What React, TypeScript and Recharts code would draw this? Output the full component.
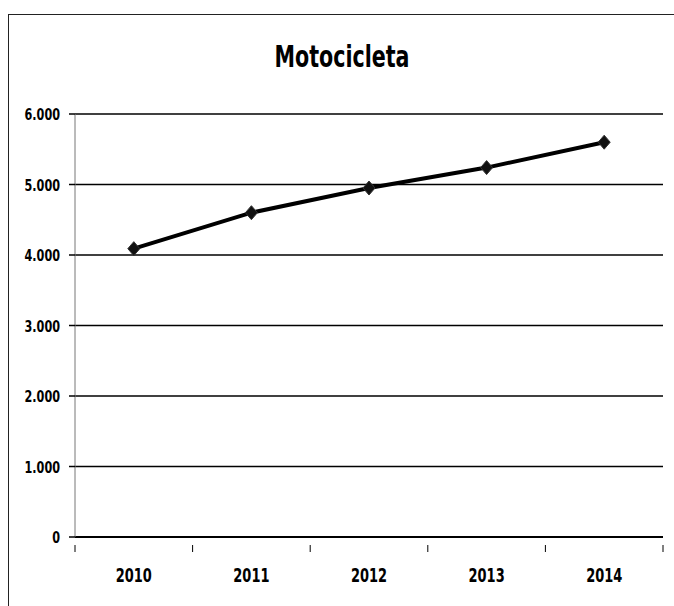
import { LineChart, Line, XAxis, YAxis, CartesianGrid } from "recharts"

const years = ["2010", "2011", "2012", "2013", "2014"]
const motos = [4090, 4600, 4950, 5240, 5600]
const yTicks = [0, 1000, 2000, 3000, 4000, 5000, 6000]

const data = years.map((year, i) => ({ year, value: motos[i] }))

const W = 674
const H = 606
const PLOT_LEFT = 75
const PLOT_RIGHT = 11
const BAND = (W - PLOT_LEFT - PLOT_RIGHT) / years.length

const font = "'DejaVu Sans Condensed', 'DejaVu Sans', sans-serif"

const fmt = (v: number) => (v === 0 ? "0" : v.toLocaleString("de-DE"))

// narrow bold text, squeezed horizontally around its anchor point
function Narrow({ x, y, size, squeeze, anchor, children }: any) {
  return (
    <text
      transform={`translate(${x},${y}) scale(${squeeze},1)`}
      textAnchor={anchor}
      fontFamily={font}
      fontStretch="condensed"
      fontWeight="bold"
      fontSize={size}
      fill="#000"
    >
      {children}
    </text>
  )
}

// category labels sit under the bands, tick marks between them
function YearTick(props: any) {
  const { x, y, payload, index } = props
  const left = x - BAND / 2
  return (
    <g>
      <line x1={left} y1={y} x2={left} y2={y + 7} stroke="#000" strokeWidth={1} />
      {index === years.length - 1 && (
        <line x1={left + BAND} y1={y} x2={left + BAND} y2={y + 7} stroke="#000" strokeWidth={1} />
      )}
      <Narrow x={x} y={582} size={19} squeeze={0.76} anchor="middle">
        {payload.value}
      </Narrow>
    </g>
  )
}

function ValueTick(props: any) {
  const { y, payload } = props
  return (
    <g>
      <line x1={PLOT_LEFT - 6} y1={y} x2={PLOT_LEFT} y2={y} stroke="#000" strokeWidth={1.5} />
      <Narrow x={PLOT_LEFT - 15} y={y + 6} size={16} squeeze={0.78} anchor="end">
        {fmt(payload.value)}
      </Narrow>
    </g>
  )
}

function Diamond(props: any) {
  const { cx, cy } = props
  if (cx == null || cy == null) return null
  return (
    <polygon
      points={`${cx},${cy - 7} ${cx + 6},${cy} ${cx},${cy + 7} ${cx - 6},${cy}`}
      fill="#111"
      stroke="#333"
      strokeWidth={1}
    />
  )
}

export default function App() {
  return (
    <div style={{ position: "absolute", left: 0, top: 0, width: W, height: H, background: "#fff" }}>
      <div
        style={{
          position: "absolute",
          left: 8,
          top: 14,
          right: 0,
          bottom: 0,
          borderLeft: "1.5px solid #222",
          borderTop: "1.5px solid #222",
        }}
      />
      <svg width={W} height={100} style={{ position: "absolute", left: 0, top: 0 }}>
        <Narrow x={342} y={67} size={31} squeeze={0.74} anchor="middle">
          Motocicleta
        </Narrow>
      </svg>
      <LineChart
        width={W}
        height={H}
        data={data}
        margin={{ top: 114, right: PLOT_RIGHT, bottom: 0, left: 15 }}
        style={{ position: "absolute", left: 0, top: 0 }}
      >
        <CartesianGrid vertical={false} stroke="#000" strokeWidth={1.5} />
        <XAxis
          dataKey="year"
          scale="band"
          height={69}
          axisLine={{ stroke: "#000", strokeWidth: 2 }}
          tickLine={false}
          tick={<YearTick />}
          interval={0}
        />
        <YAxis
          width={60}
          domain={[0, 6000]}
          ticks={yTicks}
          axisLine={{ stroke: "#777", strokeWidth: 1 }}
          tickLine={false}
          tick={<ValueTick />}
        />
        <Line
          dataKey="value"
          stroke="#000"
          strokeWidth={4}
          dot={<Diamond />}
          activeDot={false}
          isAnimationActive={false}
        />
      </LineChart>
    </div>
  )
}
